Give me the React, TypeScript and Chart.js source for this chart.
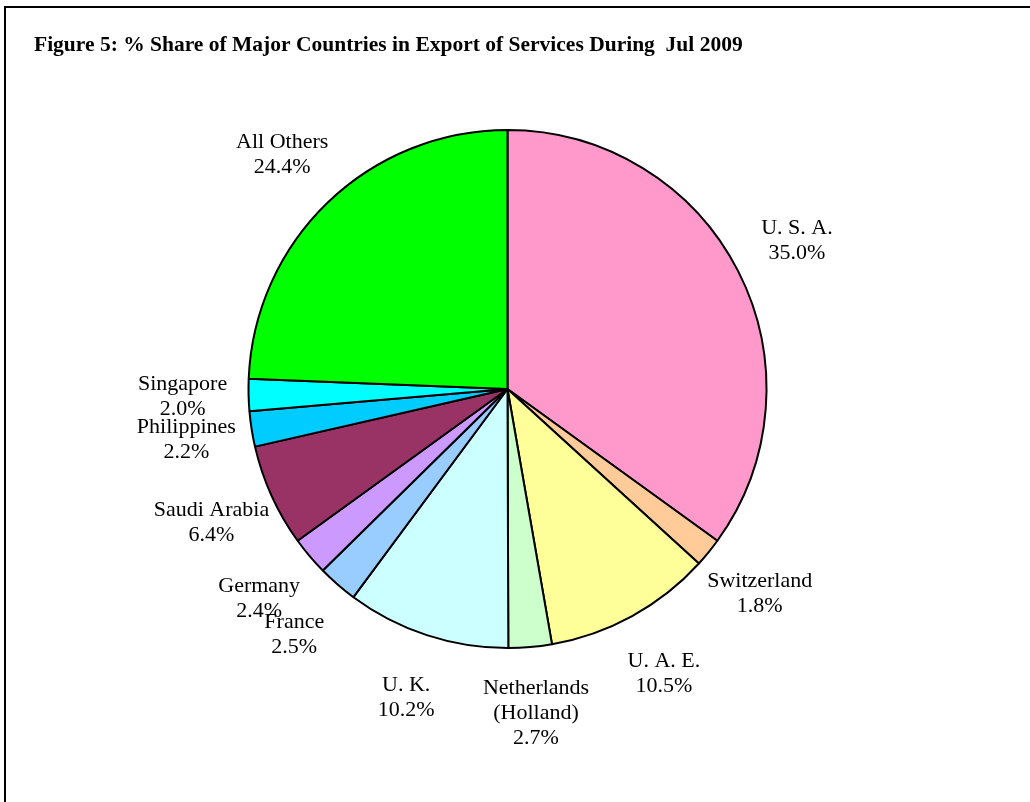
import React, { useEffect, useRef } from "react";
import { Chart, registerables } from "chart.js";

Chart.register(...registerables);

const TITLE = "Figure 5: % Share of Major Countries in Export of Services During  Jul 2009";
const categories = [
  "U. S. A.",
  "Switzerland",
  "U. A. E.",
  "Netherlands\n(Holland)",
  "U. K.",
  "France",
  "Germany",
  "Saudi Arabia",
  "Philippines",
  "Singapore",
  "All Others",
];
const shares = [35.0, 1.8, 10.5, 2.7, 10.2, 2.5, 2.4, 6.4, 2.2, 2.0, 24.4];
const colors = [
  "#FF99CC",
  "#FFCC99",
  "#FFFF99",
  "#CCFFCC",
  "#CCFFFF",
  "#99CCFF",
  "#CC99FF",
  "#993366",
  "#00CCFF",
  "#00FFFF",
  "#00FF00",
];

const LABEL_FONT = "22px 'Liberation Serif', 'Times New Roman', serif";
const LINE_H = 25;
const LABEL_DIST = 1.255;

const framePlugin = {
  id: "frame",
  afterDraw(chart: any) {
    const ctx = chart.ctx;
    ctx.save();
    ctx.strokeStyle = "#000";
    ctx.lineWidth = 2;
    ctx.beginPath();
    ctx.moveTo(5, chart.height + 2);
    ctx.lineTo(5, 7);
    ctx.lineTo(chart.width + 2, 7);
    ctx.stroke();
    ctx.restore();
  },
};

const labelPlugin = {
  id: "sliceLabels",
  afterDatasetsDraw(chart: any) {
    const meta = chart.getDatasetMeta(0);
    const ctx = chart.ctx;
    ctx.save();
    ctx.font = LABEL_FONT;
    ctx.fillStyle = "#000";
    ctx.textAlign = "center";
    ctx.textBaseline = "middle";
    meta.data.forEach((arc: any, i: number) => {
      const p = arc.getProps(["x", "y", "startAngle", "endAngle", "outerRadius"], true);
      const mid = (p.startAngle + p.endAngle) / 2;
      const d = p.outerRadius * LABEL_DIST;
      const cx = p.x + Math.cos(mid) * d;
      const cy = p.y + Math.sin(mid) * d;
      const lines = [...categories[i].split("\n"), shares[i].toFixed(1) + "%"];
      const h = lines.length * LINE_H;
      lines.forEach((l, k) => {
        ctx.fillText(l, cx, cy - h / 2 + LINE_H * (k + 0.5));
      });
    });
    ctx.restore();
  },
};

export default function App() {
  const ref = useRef<HTMLCanvasElement | null>(null);
  useEffect(() => {
    if (!ref.current) return;
    const chart = new Chart(ref.current, {
      type: "pie",
      data: {
        labels: categories,
        datasets: [
          {
            data: shares,
            backgroundColor: colors,
            borderColor: "#000",
            borderWidth: 2,
            hoverOffset: 0,
          },
        ],
      },
      options: {
        responsive: false,
        animation: false,
        layout: { padding: { left: 34, right: 49, top: 0, bottom: 153 } },
        plugins: {
          legend: { display: false },
          tooltip: { enabled: false },
          title: {
            display: true,
            text: TITLE,
            align: "start",
            color: "#000",
            font: { family: "'Liberation Serif', 'Times New Roman', serif", size: 21.5, weight: "bold", lineHeight: 1.2 },
            padding: { top: 33, bottom: 70.2 },
          },
        },
      },
      plugins: [labelPlugin, framePlugin],
    });
    return () => chart.destroy();
  }, []);
  return (
    <div style={{ position: "fixed", left: 0, top: 0, width: 1030, height: 802, background: "#fff" }}>
      <canvas ref={ref} width={1030} height={802} style={{ display: "block" }} />
    </div>
  );
}
